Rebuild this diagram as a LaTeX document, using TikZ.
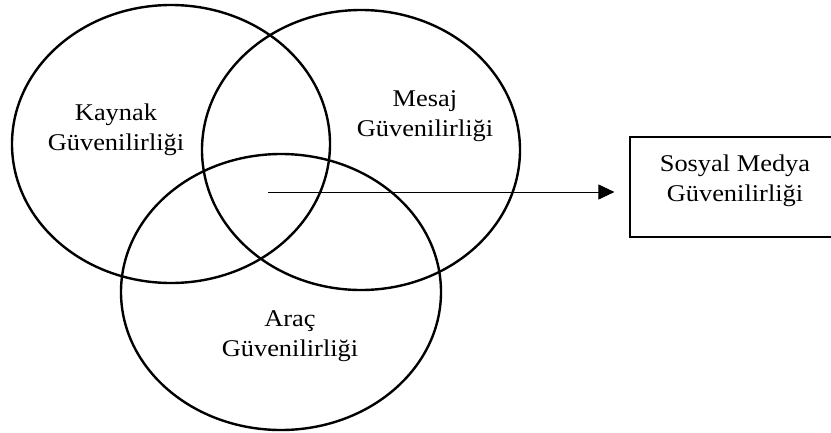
\documentclass[tikz,border=0pt]{standalone}
\usepackage{fontspec}
\setmainfont{Liberation Serif}[FakeStretch=1.1]
\usetikzlibrary{arrows.meta}

\tikzset{
  circ/.style={line width=2.4pt},
  lbl/.style={align=center, inner sep=0pt, font=\fontsize{24}{30}\selectfont},
}

\begin{document}
\begin{tikzpicture}[x=1pt,y=-1pt]
		\useasboundingbox (0,0) rectangle (831,432);
		
		\coordinate (K) at (171,144);
		\coordinate (M) at (361,150);
		\coordinate (A) at (281,292);
		
		\draw [circ] (K) ellipse [x radius=159pt, y radius=139pt];
		\draw [circ] (M) ellipse [x radius=159pt, y radius=140pt];
		\draw [circ] (A) ellipse [x radius=160pt, y radius=138pt];
		
		\node [lbl] (kaynak) at (116,130) {Kaynak\\Güvenilirliği};
		\node [lbl] (mesaj) at (425,116) {Mesaj\\Güvenilirliği};
		\node [lbl] (arac) at (290,336) {Araç\\Güvenilirliği};
		
		\node [draw, line width=1.2pt, minimum width=202pt, minimum height=100pt] (smbox) at (731,187) {};
		\node [lbl] (sm) at (735,181) {Sosyal Medya\\Güvenilirliği};
		
		\coordinate (S) at (268,192);
		%% ok
		\draw [line width=1pt, -{Triangle[length=16pt,width=15pt]}, shorten >=15pt] (S) -- (S -| smbox.west);
		
\end{tikzpicture}
\end{document}
